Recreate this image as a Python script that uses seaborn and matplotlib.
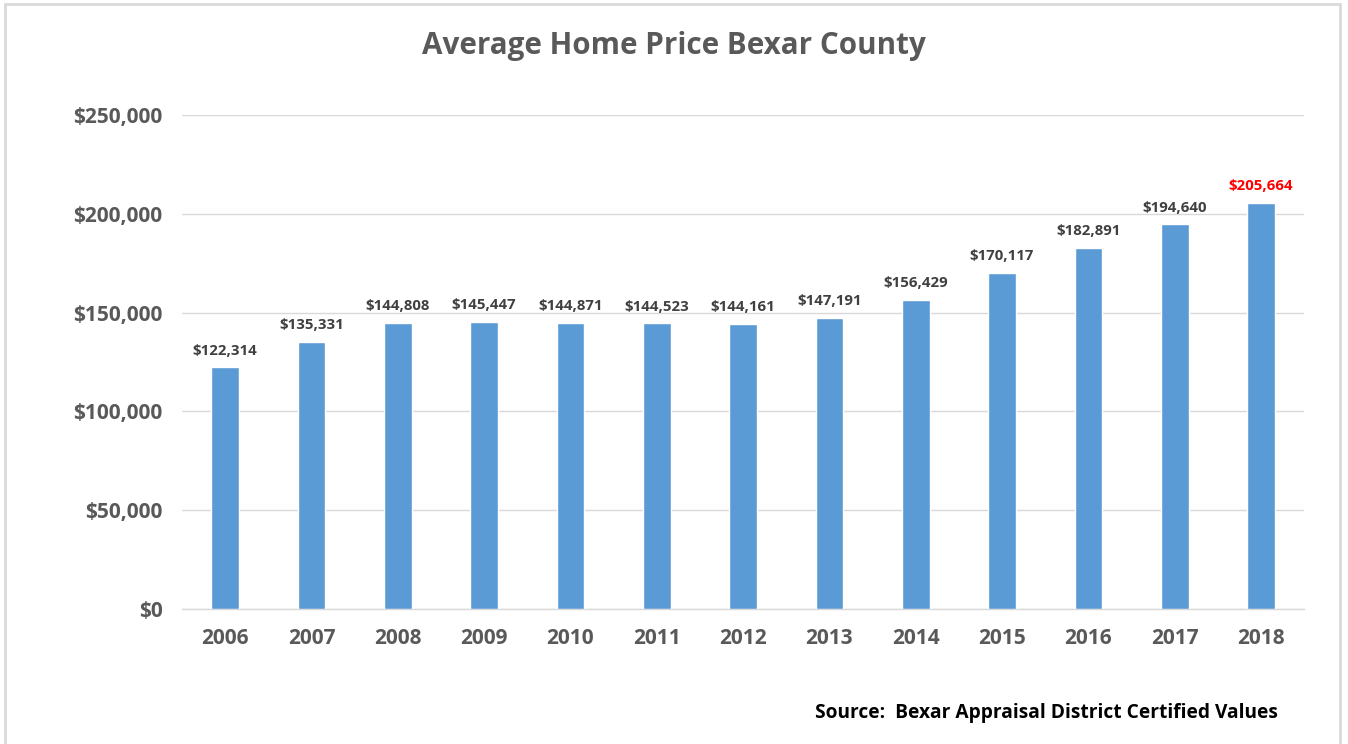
import matplotlib
matplotlib.use("Agg")
import matplotlib.pyplot as plt
import seaborn as sns
import pandas as pd
from matplotlib.patches import Rectangle
from matplotlib.ticker import FuncFormatter, MultipleLocator

years = ["2006", "2007", "2008", "2009", "2010", "2011", "2012",
         "2013", "2014", "2015", "2016", "2017", "2018"]
prices = [122314, 135331, 144808, 145447, 144871, 144523, 144161,
          147191, 156429, 170117, 182891, 194640, 205664]
title = "Average Home Price Bexar County"
source = "Source:  Bexar Appraisal District Certified Values"

sns.set_theme(style="white")
plt.rcParams['font.family'] = ['Open Sans', 'DejaVu Sans']

df = pd.DataFrame({"year": years, "price": prices})

fig = plt.figure(figsize=(13.48, 7.44), dpi=100)
ax = fig.add_axes([0.135, 0.1815, 0.8325, 0.6639])

sns.barplot(data=df, x="year", y="price", color="#5B9BD5", saturation=1,
            width=0.32, ax=ax, zorder=3)

ax.set_ylim(0, 250000)
ax.yaxis.set_major_locator(MultipleLocator(50000))
ax.yaxis.set_major_formatter(FuncFormatter(lambda v, p: f"${v:,.0f}"))
ax.grid(axis="y", color="#D9D9D9", linewidth=1, zorder=0)
ax.set_axisbelow(True)
for s in ["top", "right", "left"]:
    ax.spines[s].set_visible(False)
ax.spines["bottom"].set_color("#D9D9D9")
ax.spines["bottom"].set_linewidth(1)
ax.set_xlabel("")
ax.set_ylabel("")
ax.tick_params(axis="both", length=0, colors="#595959", labelsize=15)
ax.tick_params(axis="y", pad=14)
ax.tick_params(axis="x", pad=14)
for lab in ax.get_xticklabels() + ax.get_yticklabels():
    lab.set_fontweight("bold")

for i, (bar, v) in enumerate(zip(ax.patches, prices)):
    col = "#FF0000" if i == len(prices) - 1 else "#404040"
    ax.annotate(f"${v:,.0f}", (bar.get_x() + bar.get_width() / 2, v),
                xytext=(0, 7), textcoords="offset points", ha="center",
                va="bottom", fontsize=10.8, fontweight="bold", color=col)

fig.text(0.5, 0.938, title, ha="center", va="center", fontsize=21.3,
         fontweight="bold", color="#595959")
fig.text(0.948, 0.042, source, ha="right", va="center", fontsize=13.8,
         fontweight="bold", color="#000000")

fig.patches.append(Rectangle((5 / 1348, -0.01), 1335 / 1348, 1 - 4 / 744 + 0.01,
                             transform=fig.transFigure, fill=False,
                             edgecolor="#D9D9D9", linewidth=2))

fig.savefig("out.png", dpi=100, facecolor="white")
